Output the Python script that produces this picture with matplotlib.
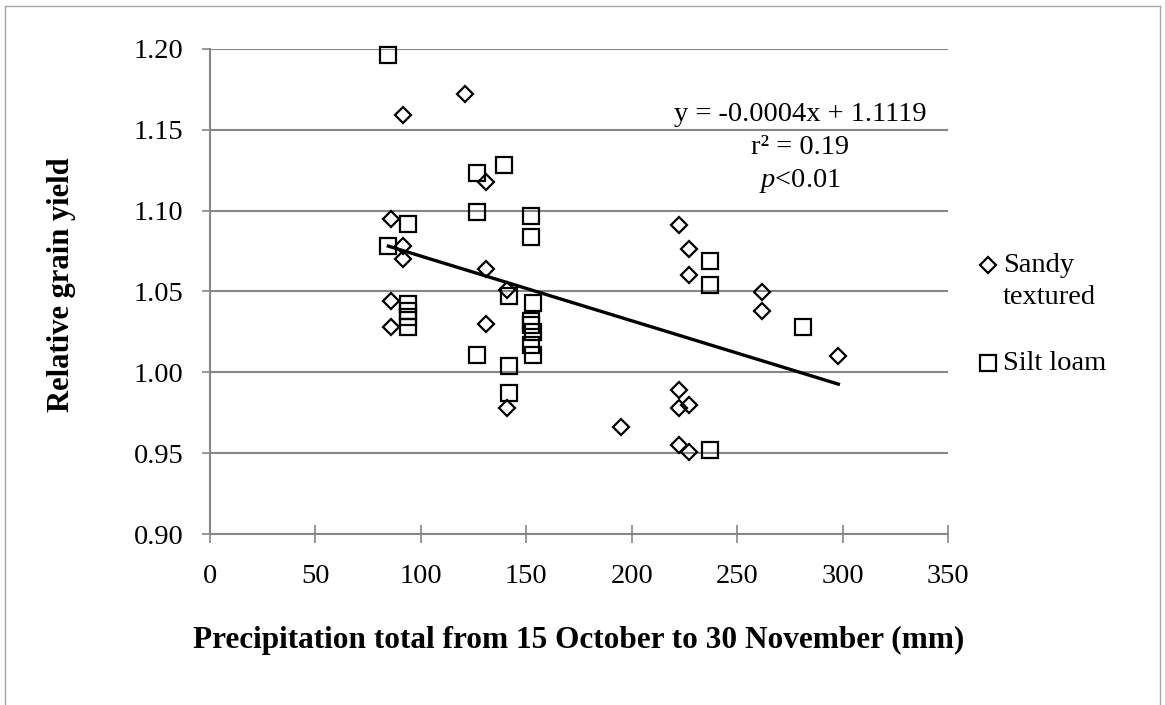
import numpy as np
import matplotlib.pyplot as plt
from matplotlib.lines import Line2D

plt.rcParams["font.family"] = ["Liberation Serif", "DejaVu Serif"]
plt.rcParams["mathtext.fontset"] = "custom"
plt.rcParams["mathtext.rm"] = "Liberation Serif"
plt.rcParams["mathtext.it"] = "Liberation Serif:italic"

# Sandy textured soils
sandy_x = [91.6, 120.9, 86, 91.6, 91.6, 86, 86, 130.8, 130.8, 130.8, 141, 141,
           195, 222.4, 227, 227, 222.4, 222.4, 227, 222.4, 227, 262, 262, 298]
sandy_y = [1.159, 1.172, 1.095, 1.078, 1.070, 1.044, 1.028, 1.118, 1.064, 1.030, 1.051, 0.978,
           0.966, 1.091, 1.076, 1.060, 0.989, 0.978, 0.980, 0.955, 0.951, 1.050, 1.038, 1.010]

# Silt loam soils
silt_x = [84.6, 93.7, 84.6, 93.7, 93.7, 93.7, 93.7, 126.5, 126.5, 126.5, 139.6, 142, 142, 142,
          152, 152, 153, 152, 152, 153, 152, 153, 237, 237, 237, 281]
silt_y = [1.196, 1.092, 1.078, 1.042, 1.038, 1.034, 1.028, 1.123, 1.099, 1.011, 1.128, 1.047, 1.004, 0.987,
          1.097, 1.084, 1.043, 1.032, 1.029, 1.025, 1.017, 1.011, 1.069, 1.054, 0.952, 1.028]

# trendline from the reported equation
slope = -0.0004
intercept = 1.1119

W, H = 1165, 705
fig = plt.figure(figsize=(W / 100, H / 100), dpi=100)
ax = fig.add_axes([210 / W, 1 - 534 / H, 738 / W, 485 / H])

grid_color = "#868686"
fs = 20.5

diamond = dict(linestyle="none", marker="D", markersize=8.3, markerfacecolor="none",
               markeredgecolor="black", markeredgewidth=1.6)
square = dict(linestyle="none", marker="s", markersize=11.5, markerfacecolor="none",
              markeredgecolor="black", markeredgewidth=1.6)

ax.plot(sandy_x, sandy_y, clip_on=False, **diamond)
ax.plot(silt_x, silt_y, clip_on=False, **square)

all_x = np.array(sandy_x + silt_x)
line_x = np.array([all_x.min(), all_x.max()])
ax.plot(line_x, slope * line_x + intercept, color="black", linewidth=2.4)

ax.set_xlim(0, 350)
ax.set_ylim(0.90, 1.20)
ax.set_xticks(np.arange(0, 351, 50))
ax.set_yticks(np.arange(0.90, 1.201, 0.05))
ax.set_yticklabels([f"{v:.2f}" for v in np.arange(0.90, 1.201, 0.05)])

for side in ["top", "right"]:
    ax.spines[side].set_visible(False)
for side in ["left", "bottom"]:
    ax.spines[side].set_color(grid_color)
    ax.spines[side].set_linewidth(1.5)

ax.yaxis.grid(True, color=grid_color, linewidth=1.5)
ax.set_axisbelow(True)
ax.tick_params(axis="y", direction="out", length=6, width=1.2, color=grid_color,
               labelsize=fs, pad=13)
ax.tick_params(axis="x", direction="inout", length=13, width=1.2, color=grid_color,
               labelsize=fs, pad=15)

ax.set_xlabel("Precipitation total from 15 October to 30 November (mm)",
              fontsize=22.5, fontweight="bold")
ax.xaxis.label.set_va("center")
ax.xaxis.set_label_coords(0.5, (534 - 640) / 485)
ax.set_ylabel("Relative grain yield", fontsize=22, fontweight="bold")
ax.yaxis.label.set_va("center")
ax.yaxis.set_label_coords((62 - 210) / 738, (534 - 285) / 485)

ax.text(280, 1.1592, "y = -0.0004x + 1.1119", fontsize=fs, ha="center", va="center")
ax.text(280, 1.1391, "r² = 0.19", fontsize=fs, ha="center", va="center")
ax.text(280, 1.1186, "$p$<0.01", fontsize=fs, ha="center", va="center")

# legend, laid out like the spreadsheet one (marker beside first line)
fig.add_artist(Line2D([988 / W], [1 - 265 / H], **diamond))
fig.text(1003 / W, 1 - 265 / H, "Sandy", fontsize=fs, ha="left", va="center")
fig.text(1003 / W, 1 - 298 / H, "textured", fontsize=fs, ha="left", va="center")
fig.add_artist(Line2D([988 / W], [1 - 363 / H], **square))
fig.text(1003 / W, 1 - 363 / H, "Silt loam", fontsize=fs, ha="left", va="center")

# outer chart frame
frame_color = "#a6a6a6"
fig.add_artist(Line2D([5 / W, 5 / W], [0, 1 - 6 / H], color=frame_color, linewidth=1))
fig.add_artist(Line2D([1160 / W, 1160 / W], [0, 1 - 6 / H], color=frame_color, linewidth=1))
fig.add_artist(Line2D([5 / W, 1160 / W], [1 - 6 / H, 1 - 6 / H], color=frame_color, linewidth=1))

fig.savefig("out.png", dpi=100)
